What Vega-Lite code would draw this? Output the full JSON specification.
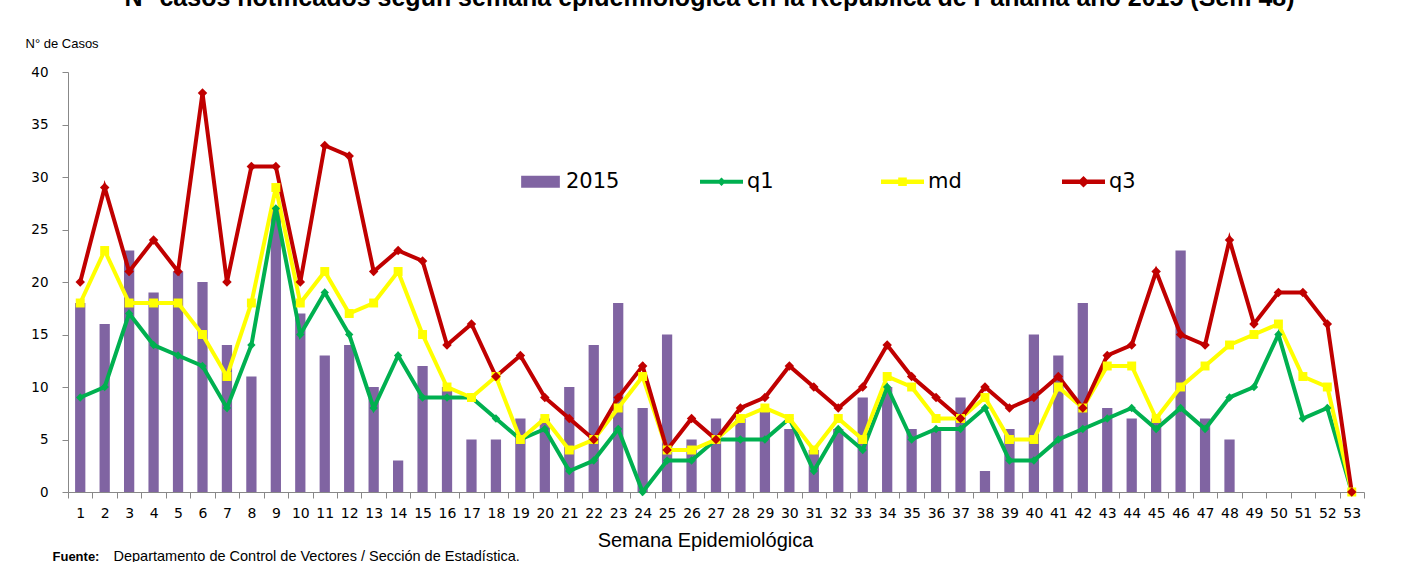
{
  "$schema": "https://vega.github.io/schema/vega-lite/v6.json",
  "width": 1296,
  "height": 420,
  "autosize": {"type": "none"},
  "padding": {"left": 68, "top": 72, "right": 41, "bottom": 70},
  "background": "white",
  "config": {"view": {"stroke": null}, "font": "DejaVu Sans"},
  "data": {"values": [
    {"semana": 1, "2015": 18, "q1": 9, "md": 18, "q3": 20},
    {"semana": 2, "2015": 16, "q1": 10, "md": 23, "q3": 29},
    {"semana": 3, "2015": 23, "q1": 17, "md": 18, "q3": 21},
    {"semana": 4, "2015": 19, "q1": 14, "md": 18, "q3": 24},
    {"semana": 5, "2015": 21, "q1": 13, "md": 18, "q3": 21},
    {"semana": 6, "2015": 20, "q1": 12, "md": 15, "q3": 38},
    {"semana": 7, "2015": 14, "q1": 8, "md": 11, "q3": 20},
    {"semana": 8, "2015": 11, "q1": 14, "md": 18, "q3": 31},
    {"semana": 9, "2015": 27, "q1": 27, "md": 29, "q3": 31},
    {"semana": 10, "2015": 17, "q1": 15, "md": 18, "q3": 20},
    {"semana": 11, "2015": 13, "q1": 19, "md": 21, "q3": 33},
    {"semana": 12, "2015": 14, "q1": 15, "md": 17, "q3": 32},
    {"semana": 13, "2015": 10, "q1": 8, "md": 18, "q3": 21},
    {"semana": 14, "2015": 3, "q1": 13, "md": 21, "q3": 23},
    {"semana": 15, "2015": 12, "q1": 9, "md": 15, "q3": 22},
    {"semana": 16, "2015": 10, "q1": 9, "md": 10, "q3": 14},
    {"semana": 17, "2015": 5, "q1": 9, "md": 9, "q3": 16},
    {"semana": 18, "2015": 5, "q1": 7, "md": 11, "q3": 11},
    {"semana": 19, "2015": 7, "q1": 5, "md": 5, "q3": 13},
    {"semana": 20, "2015": 7, "q1": 6, "md": 7, "q3": 9},
    {"semana": 21, "2015": 10, "q1": 2, "md": 4, "q3": 7},
    {"semana": 22, "2015": 14, "q1": 3, "md": 5, "q3": 5},
    {"semana": 23, "2015": 18, "q1": 6, "md": 8, "q3": 9},
    {"semana": 24, "2015": 8, "q1": 0, "md": 11, "q3": 12},
    {"semana": 25, "2015": 15, "q1": 3, "md": 4, "q3": 4},
    {"semana": 26, "2015": 5, "q1": 3, "md": 4, "q3": 7},
    {"semana": 27, "2015": 7, "q1": 5, "md": 5, "q3": 5},
    {"semana": 28, "2015": 7, "q1": 5, "md": 7, "q3": 8},
    {"semana": 29, "2015": 8, "q1": 5, "md": 8, "q3": 9},
    {"semana": 30, "2015": 6, "q1": 7, "md": 7, "q3": 12},
    {"semana": 31, "2015": 4, "q1": 2, "md": 4, "q3": 10},
    {"semana": 32, "2015": 6, "q1": 6, "md": 7, "q3": 8},
    {"semana": 33, "2015": 9, "q1": 4, "md": 5, "q3": 10},
    {"semana": 34, "2015": 10, "q1": 10, "md": 11, "q3": 14},
    {"semana": 35, "2015": 6, "q1": 5, "md": 10, "q3": 11},
    {"semana": 36, "2015": 6, "q1": 6, "md": 7, "q3": 9},
    {"semana": 37, "2015": 9, "q1": 6, "md": 7, "q3": 7},
    {"semana": 38, "2015": 2, "q1": 8, "md": 9, "q3": 10},
    {"semana": 39, "2015": 6, "q1": 3, "md": 5, "q3": 8},
    {"semana": 40, "2015": 15, "q1": 3, "md": 5, "q3": 9},
    {"semana": 41, "2015": 13, "q1": 5, "md": 10, "q3": 11},
    {"semana": 42, "2015": 18, "q1": 6, "md": 8, "q3": 8},
    {"semana": 43, "2015": 8, "q1": 7, "md": 12, "q3": 13},
    {"semana": 44, "2015": 7, "q1": 8, "md": 12, "q3": 14},
    {"semana": 45, "2015": 7, "q1": 6, "md": 7, "q3": 21},
    {"semana": 46, "2015": 23, "q1": 8, "md": 10, "q3": 15},
    {"semana": 47, "2015": 7, "q1": 6, "md": 12, "q3": 14},
    {"semana": 48, "2015": 5, "q1": 9, "md": 14, "q3": 24},
    {"semana": 49, "q1": 10, "md": 15, "q3": 16},
    {"semana": 50, "q1": 15, "md": 16, "q3": 19},
    {"semana": 51, "q1": 7, "md": 11, "q3": 19},
    {"semana": 52, "q1": 8, "md": 10, "q3": 16},
    {"semana": 53, "q1": 0, "md": 0, "q3": 0}
  ]},
  "transform": [{"fold": ["2015", "q1", "md", "q3"], "as": ["serie", "valor"]}],
  "resolve": {"axis": {"x": "independent", "y": "independent"}},
  "layer": [
    {
      "transform": [{"filter": "datum.serie == '2015' && isValid(datum.valor)"}],
      "mark": {"type": "bar", "width": {"band": 0.42}},
      "encoding": {
        "x": {
          "field": "semana", "type": "ordinal",
          "scale": {"type": "band", "paddingInner": 0, "paddingOuter": 0},
          "axis": {
            "title": "Semana Epidemiológica", "titleFont": "Liberation Sans", "titleFontSize": 20,
            "titleFontWeight": "normal", "titleColor": "black", "titleX": 637, "titleY": 48,
            "titleBaseline": "middle", "titleAlign": "center",
            "labelAngle": 0, "labelFont": "DejaVu Sans", "labelFontSize": 14, "labelColor": "black",
            "labelPadding": 8, "tickBand": "extent", "tickSize": 6, "tickColor": "#888888",
            "domainColor": "#888888", "grid": false
          }
        },
        "y": {
          "field": "valor", "type": "quantitative",
          "scale": {"domain": [0, 40], "nice": false},
          "axis": {
            "values": [0, 5, 10, 15, 20, 25, 30, 35, 40],
            "title": "N° de  Casos", "titleAngle": 0, "titleAlign": "left", "titleBaseline": "middle",
            "titleX": -43, "titleY": -29, "titleFont": "Liberation Sans", "titleFontSize": 13,
            "titleFontWeight": "normal", "titleColor": "black",
            "labelFont": "DejaVu Sans", "labelFontSize": 13.5, "labelColor": "black", "labelPadding": 14,
            "tickSize": 6, "tickColor": "#888888", "domainColor": "#888888", "grid": false
          }
        },
        "color": {
          "field": "serie", "type": "nominal",
          "scale": {"domain": ["2015", "q1", "md", "q3"], "range": ["#8064A2", "#00B050", "#FFFF00", "#C00000"]},
          "legend": {
            "orient": "none", "legendX": 451, "legendY": 88, "direction": "horizontal", "columns": 4,
            "title": null, "symbolSize": 1849, "labelFontSize": 21, "labelFont": "DejaVu Sans",
            "labelColor": "black", "labelOffset": 4, "columnPadding": 80, "gridAlign": "all", "padding": 0,
            "encode": {
              "symbols": {
                "update": {
                  "shape": {"signal": "datum.value == '2015' ? 'M-0.9,-0.28H0.9V0.28H-0.9Z' : datum.value == 'md' ? 'M-1,-0.1H1V0.1H-1Z M-0.2,-0.2H0.2V0.2H-0.2Z' : datum.value == 'q3' ? 'M-1,-0.1H1V0.1H-1Z M0,-0.27L0.27,0L0,0.27L-0.27,0Z' : 'M-1,-0.09H1V0.09H-1Z M0,-0.2L0.2,0L0,0.2L-0.2,0Z'"},
                  "fill": {"signal": "scale('color', datum.value)"},
                  "fillOpacity": {"value": 1},
                  "opacity": {"value": 1},
                  "strokeWidth": {"value": 0}
                }
              }
            }
          }
        }
      }
    },
    {
      "transform": [{"filter": "datum.serie != '2015'"}],
      "mark": {"type": "line", "strokeWidth": 4},
      "encoding": {
        "x": {
          "field": "semana", "type": "ordinal",
          "scale": {"type": "band", "paddingInner": 0, "paddingOuter": 0},
          "axis": {
            "orient": "top", "labels": false, "ticks": false, "domain": false, "grid": false,
            "title": "Fuente:", "titleFont": "Liberation Sans", "titleFontSize": 13, "titleFontWeight": "bold",
            "titleColor": "black", "titleX": -16, "titleY": 488, "titleAlign": "left", "titleBaseline": "alphabetic", "titleAngle": 0
          }
        },
        "y": {
          "field": "valor", "type": "quantitative",
          "axis": {
            "orient": "right", "labels": false, "ticks": false, "domain": false, "grid": false,
            "title": "N° casos notificados según semana epidemiológica en la República de Panamá año 2015 (Sem 48)",
            "titleAngle": 0, "titleX": -655, "titleY": -67, "titleAlign": "center", "titleBaseline": "alphabetic",
            "titleFont": "Liberation Sans", "titleFontSize": 25, "titleFontWeight": "bold", "titleColor": "black"
          }
        },
        "color": {"field": "serie", "type": "nominal", "legend": null}
      }
    },
    {
      "transform": [{"filter": "datum.serie != '2015'"}],
      "mark": {"type": "point", "filled": true, "opacity": 1, "strokeWidth": 0},
      "encoding": {
        "x": {
          "field": "semana", "type": "ordinal",
          "scale": {"type": "band", "paddingInner": 0, "paddingOuter": 0},
          "axis": {
            "orient": "top", "labels": false, "ticks": false, "domain": false, "grid": false,
            "title": "Departamento de Control de Vectores / Sección de Estadística.", "titleFont": "Liberation Sans",
            "titleFontSize": 14.5, "titleFontWeight": "normal", "titleColor": "black", "titleX": 45, "titleY": 488,
            "titleAlign": "left", "titleBaseline": "alphabetic", "titleAngle": 0
          }
        },
        "y": {"field": "valor", "type": "quantitative", "axis": null},
        "color": {"field": "serie", "type": "nominal", "legend": null},
        "shape": {"field": "serie", "type": "nominal", "scale": {"domain": ["q1", "md", "q3"], "range": ["diamond", "square", "diamond"]}, "legend": null},
        "size": {"field": "serie", "type": "nominal", "scale": {"domain": ["q1", "md", "q3"], "range": [70, 90, 140]}, "legend": null}
      }
    }
  ]
}
